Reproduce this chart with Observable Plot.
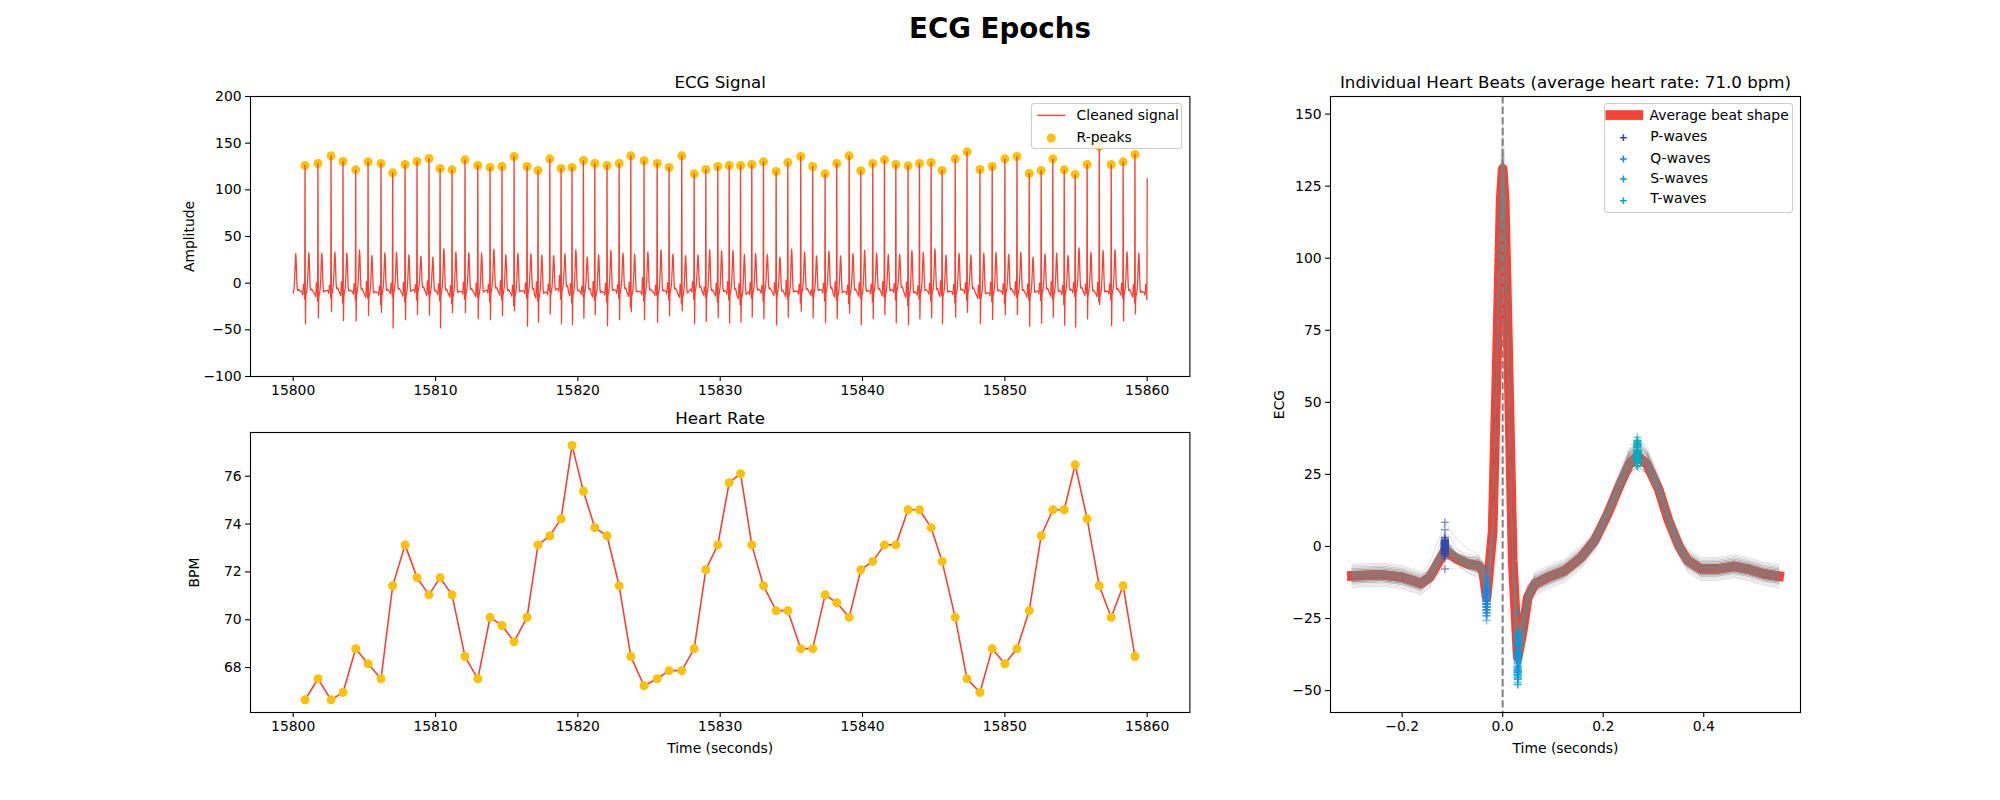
<!DOCTYPE html>
<html>
<head>
<meta charset="utf-8">
<script src="https://cdn.jsdelivr.net/npm/d3@7"></script>
<script src="https://cdn.jsdelivr.net/npm/@observablehq/plot@0.6"></script>
<style>
  body { margin: 0; background: #ffffff; }
  #fig { position: relative; width: 2000px; height: 800px; background: #ffffff; overflow: hidden;
         font-family: "DejaVu Sans", sans-serif; color: #000; }
  .legend { position: absolute; background: rgba(255,255,255,0.8); border: 1px solid #cccccc;
            border-radius: 3px; box-sizing: border-box; }
  .legend svg { position: absolute; left: 0; top: 0; overflow: visible; }
</style>
</head>
<body>
<div id="fig"></div>
<script>
// ---------------- Data ----------------
const figureTitle = "ECG Epochs";
const panelTitles = ["ECG Signal", "Heart Rate", "Individual Heart Beats (average heart rate: 71.0 bpm)"];

// R-peak times (s)
const rTimes = [
  15800.83, 15801.74, 15802.66, 15803.50, 15804.39, 15805.26, 15806.17, 15806.99, 15807.86, 15808.70,
  15809.54, 15810.32, 15811.16, 15812.07, 15812.97, 15813.83, 15814.67, 15815.52, 15816.43, 15817.20,
  15818.03, 15818.82, 15819.59, 15820.39, 15821.19, 15822.05, 15822.90, 15823.72, 15824.65, 15825.57,
  15826.41, 15827.30, 15828.17, 15828.99, 15829.83, 15830.63, 15831.43, 15832.22, 15833.04, 15833.93,
  15834.75, 15835.66, 15836.50, 15837.37, 15838.19, 15839.06, 15839.88, 15840.72, 15841.54, 15842.34,
  15843.20, 15844.00, 15844.82, 15845.59, 15846.51, 15847.34, 15848.25, 15849.11, 15850.00, 15850.85,
  15851.71, 15852.55, 15853.37, 15854.17, 15854.94, 15855.78, 15856.63, 15857.47, 15858.31, 15859.14
];
// Heart rate at each R-peak (bpm)
const heartRate = [
  66.65, 67.53, 66.65, 66.96, 68.79, 68.16, 67.53, 71.42, 73.13, 71.76,
  71.04, 71.76, 71.04, 68.46, 67.53, 70.10, 69.76, 69.08, 70.10, 73.13,
  73.51, 74.22, 77.29, 75.37, 73.85, 73.51, 71.42, 68.46, 67.24, 67.53,
  67.87, 67.87, 68.79, 72.09, 73.13, 75.73, 76.11, 73.13, 71.42, 70.38,
  70.38, 68.79, 68.79, 71.04, 70.71, 70.10, 72.09, 72.44, 73.13, 73.13,
  74.60, 74.60, 73.85, 72.44, 70.10, 67.53, 66.96, 68.79, 68.16, 68.79,
  70.38, 73.51, 74.60, 74.60, 76.48, 74.22, 71.42, 70.10, 71.42, 68.46
];
// R-peak amplitudes
const rAmp = [
  126.1, 128.2, 136.4, 130.4, 121.4, 130.0, 128.2, 118.2, 127.1, 130.4,
  133.6, 122.9, 121.4, 132.1, 126.1, 124.0, 125.0, 135.7, 125.0, 120.7,
  133.2, 122.9, 124.0, 131.4, 128.2, 126.1, 128.2, 136.4, 131.1, 128.2,
  124.0, 136.4, 117.1, 121.8, 125.0, 126.1, 126.1, 127.1, 130.0, 119.6,
  129.3, 135.7, 125.0, 117.1, 128.2, 136.4, 120.4, 128.2, 132.1, 127.1,
  125.7, 128.2, 129.3, 120.7, 133.2, 140.7, 121.8, 125.0, 133.2, 135.7,
  117.5, 120.7, 133.2, 121.4, 116.4, 127.1, 146.4, 127.1, 130.0, 137.9
];
// S-wave minima
const sAmp = [
  -43.6, -37.1, -30.4, -40.0, -40.4, -34.6, -31.1, -47.9, -39.3, -33.6,
  -34.0, -47.9, -31.4, -31.8, -38.2, -39.3, -35.0, -29.6, -46.1, -41.8,
  -32.9, -43.6, -44.3, -37.5, -33.9, -45.4, -39.3, -30.7, -39.3, -41.8,
  -35.0, -29.6, -43.6, -41.1, -36.8, -42.9, -41.8, -36.4, -38.2, -44.6,
  -36.4, -30.0, -37.1, -42.5, -37.9, -32.2, -44.3, -37.9, -33.9, -42.5,
  -44.6, -38.2, -37.1, -43.6, -36.4, -31.1, -43.2, -38.9, -33.9, -33.6,
  -46.1, -42.9, -36.4, -45.0, -47.1, -38.2, -22.9, -45.7, -40.4, -32.9
];
// T-wave peaks
const tAmp = [
  32.5, 32.1, 33.2, 32.1, 35.7, 29.6, 32.5, 32.9, 30.4, 28.9,
  27.9, 36.8, 33.2, 32.5, 32.1, 36.4, 30.4, 32.1, 31.4, 30.0,
  29.6, 31.4, 35.7, 27.9, 30.4, 35.0, 32.1, 31.0, 33.2, 35.7,
  31.0, 29.6, 30.4, 35.7, 34.3, 35.0, 30.7, 31.5, 30.7, 27.9,
  36.4, 33.2, 29.3, 34.3, 29.3, 31.5, 35.0, 32.1, 30.7, 30.7,
  35.0, 32.9, 36.8, 30.0, 32.1, 30.0, 32.1, 32.9, 30.7, 32.9,
  27.9, 31.4, 32.1, 29.6, 37.9, 32.9, 35.0, 35.7, 33.6, 32.1
];
// P-wave peaks (estimated from the cluster)
const pAmp = [
  -1.0, 0.5, -2.0, 1.5, -0.5, 2.0, -3.0, 0.0, 1.0, -1.5,
  2.5, -0.5, -2.5, 1.0, 0.0, -1.0, 3.0, -2.0, 0.5, 1.5,
  -1.0, 8.4, -0.5, -3.5, 2.0, 0.0, -1.5, 1.0, 5.8, -2.0,
  0.5, -1.0, 1.5, -4.3, 0.0, 2.0, -0.5, 1.0, -2.5, 0.5,
  3.2, -1.0, -7.8, 0.0, 1.5, -2.0, 0.5, -1.0, 2.0, -0.5,
  1.0, -3.0, 0.0, 2.5, -1.5, 0.5, -2.0, 1.0, -0.5, 1.5,
  -1.0, 0.0, 2.0, -2.5, 0.5, -1.0, 1.0, -0.5, 0.0, -1.5
];
// Q-wave minima (estimated from the cluster)
const qAmp = [
  -17, -19, -15, -21, -18, -16, -23, -14, -20, -18,
  -12, -19, -22, -17, -15, -20, -18, -24, -16, -19,
  -8, -17, -21, -14, -18, -20, -16, -25.7, -19, -13,
  -18, -22, -17, -15, -20, -18, -23, -16, -19, -10.7,
  -17, -21, -14, -19, -18, -22, -16, -20, -15, -18,
  -24, -17, -19, -13, -21, -18, -16, -20, -22, -15,
  -18, -19, -17, -23, -14, -11, -20, -18, -16, -21
];
// Baseline offset of each beat (estimated from the spread of grey beats)
const baseOffset = [
  0.5, -1.5, 2.0, -0.5, 1.0, -2.5, 0.0, 1.5, -1.0, 3.0,
  -0.5, 0.5, -2.0, 1.0, -1.5, 2.5, 0.0, -1.0, 1.5, -3.0,
  0.5, 4.0, -0.5, 1.0, -2.0, 0.0, 2.0, -1.5, 0.5, -0.5,
  1.5, -2.5, 3.5, 0.0, -1.0, 1.0, -4.0, 0.5, 2.0, -0.5,
  -1.5, 1.0, 0.0, 2.5, -2.0, 0.5, -1.0, 1.5, -0.5, 3.0,
  -2.5, 0.0, 1.0, -1.5, 0.5, 2.0, -3.5, -0.5, 1.0, 0.0,
  -2.0, 1.5, -1.0, 0.5, 2.5, -0.5, -1.5, 1.0, 0.0, -2.0
];
// Partial beats cut by the window edges
const edgeTimes = [15799.91, 15860.004];
const edgeR = [131, 122];
const signalRange = [15800, 15860];

// Average beat shape (time relative to R-peak, s)
const avgTime = [
  -0.30, -0.24, -0.20, -0.18, -0.163, -0.145, -0.128, -0.115, -0.092, -0.069,
  -0.049, -0.039, -0.032, -0.02, -0.01, -0.004, 0, 0.004, 0.01, 0.02,
  0.03, 0.04, 0.05, 0.064, 0.09, 0.123, 0.156, 0.183, 0.209, 0.234,
  0.252, 0.268, 0.287, 0.31, 0.33, 0.351, 0.368, 0.394, 0.427, 0.46,
  0.487, 0.52, 0.55
];
const avgValue = [
  -10.2, -9.8, -10.7, -11.8, -12.8, -10.7, -5.5, -1.4, -4.3, -6.1,
  -6.6, -8.4, -17.6, 5, 75, 120, 131, 120, 75, -5,
  -38.4, -29.2, -17.6, -13, -10.7, -8.4, -3.8, 2.0, 11.3, 21.7,
  28.5, 31.5, 28.5, 20, 9, 0.0, -4.9, -7.8, -7.8, -6.9,
  -7.8, -9.5, -10.3
];
// Which wave each point of the average shape belongs to, and how much
const waveLabel = [
  "", "", "", "", "", "P", "P", "P", "P", "P",
  "", "Q", "Q", "Q", "R", "R", "R", "R", "R", "S",
  "S", "S", "S", "", "", "", "", "T", "T", "T",
  "T", "T", "T", "T", "T", "T", "", "", "", "",
  "", "", ""
];
const waveWeight = [
  0, 0, 0, 0, 0, 0.15, 0.6, 1, 0.5, 0.2,
  0, 0.3, 1, 0.3, 0.55, 0.9, 1, 0.9, 0.55, 0.4,
  1, 0.7, 0.35, 0, 0, 0, 0, 0.15, 0.35, 0.65,
  0.9, 1, 0.9, 0.65, 0.35, 0.12, 0, 0, 0, 0,
  0, 0, 0
];
const waveNames = ["P", "Q", "S", "T"];
const waveLegend = ["P-waves", "Q-waves", "S-waves", "T-waves"];
const waveColors = ["#3949AB", "#1E88E5", "#039BE5", "#00ACC1"];
const zeroLine = [0];

const timeTicks = [15800, 15810, 15820, 15830, 15840, 15850, 15860];
const ampTicks = [-100, -50, 0, 50, 100, 150, 200];
const bpmTicks = [68, 70, 72, 74, 76];
const beatTimeTicks = [-0.2, 0, 0.2, 0.4];
const ecgTicks = [-50, -25, 0, 25, 50, 75, 100, 125, 150];

// ---------------- Derived tables ----------------
const keyIndex = {};
waveLabel.forEach((l, k) => { if (l && waveWeight[k] === 1) keyIndex[l] = k; });

function beatShape(amps, base) {
  return avgTime.map((o, k) => {
    const lab = waveLabel[k], w = waveWeight[k];
    const d = lab ? amps[lab] - avgValue[keyIndex[lab]] : 0;
    return {o, v: avgValue[k] + (1 - w) * base + w * d};
  });
}
const beatAmps = rTimes.map((t, i) => ({P: pAmp[i], Q: qAmp[i], R: rAmp[i], S: sAmp[i], T: tAmp[i]}));
const avgAmps = {P: avgValue[keyIndex.P], Q: avgValue[keyIndex.Q], R: avgValue[keyIndex.R], S: avgValue[keyIndex.S], T: avgValue[keyIndex.T]};

// Continuous cleaned signal = successive beats
const allBeats = [
  {t: edgeTimes[0], amps: {...avgAmps, R: edgeR[0]}, base: 0},
  ...rTimes.map((t, i) => ({t, amps: beatAmps[i], base: baseOffset[i]})),
  {t: edgeTimes[1], amps: {...avgAmps, R: edgeR[1]}, base: 0}
];
const signal = [];
allBeats.forEach(b => {
  beatShape(b.amps, b.base).forEach(p => {
    if (p.o >= -0.24 && p.o <= 0.46) {
      const t = b.t + p.o;
      if (t >= signalRange[0] - 1e-9 && t <= signalRange[1] + 1e-9) signal.push({t, v: p.v});
    }
  });
});
const rRows = rTimes.map((t, i) => ({t, r: rAmp[i], hr: heartRate[i]}));

// Individual beats
const beatRows = [];
rTimes.forEach((t, i) => {
  beatShape(beatAmps[i], baseOffset[i]).forEach(p => beatRows.push({beat: i, o: p.o, v: p.v}));
});
const avgRows = avgTime.map((o, k) => ({o, v: avgValue[k]}));
const waveRows = waveNames.map(w => rTimes.map((t, i) => ({o: avgTime[keyIndex[w]], v: beatAmps[i][w]})));

// ---------------- Drawing ----------------
const fig = document.getElementById("fig");
function place(el, left, top) {
  el.style.position = "absolute";
  el.style.left = left + "px";
  el.style.top = top + "px";
  fig.appendChild(el);
}
const minus = s => String(s).replace(/-/g, "\u2212");
const baseStyle = {fontFamily: "DejaVu Sans, sans-serif", fontSize: "13.9px", background: "transparent", overflow: "visible", color: "#000"};
const tickOpts = {tickSize: 4.9, tickPadding: 4, strokeWidth: 1.1};
const titleMark = txt => Plot.text([txt], {frameAnchor: "top", dy: -8.3, lineAnchor: "bottom", fontSize: 16.67, text: d => d, fill: "#000"});

// Suptitle
const sup = document.createElement("div");
sup.textContent = figureTitle;
Object.assign(sup.style, {width: "2000px", textAlign: "center", fontWeight: "bold", fontSize: "27.7px", lineHeight: "27.7px"});
place(sup, 0, 14.5);

// ECG Signal panel
const pTop = Plot.plot({
  width: 1260, height: 410,
  marginLeft: 250, marginRight: 70.6, marginTop: 96, marginBottom: 34,
  style: baseStyle,
  x: {domain: [15797, 15863]},
  y: {domain: [-100, 200]},
  marks: [
    Plot.dot(rRows, {x: "t", y: "r", r: 4.5, fill: "#FFC107"}),
    Plot.line(signal, {x: "t", y: "v", stroke: "#F44336", strokeWidth: 1.3}),
    Plot.axisX({ticks: timeTicks, tickFormat: d => String(d), ...tickOpts, label: null}),
    Plot.axisY({ticks: ampTicks, tickFormat: minus, ...tickOpts, label: "Amplitude", labelAnchor: "center", labelArrow: "none", labelOffset: 66}),
    Plot.frame({stroke: "#000", strokeWidth: 1.1}),
    titleMark(panelTitles[0])
  ]
});
place(pTop, 0, 0);

// Heart rate panel
const pHr = Plot.plot({
  width: 1260, height: 400,
  marginLeft: 250, marginRight: 70.6, marginTop: 32, marginBottom: 88,
  style: baseStyle,
  x: {domain: [15797, 15863]},
  y: {domain: [66.12, 77.83]},
  marks: [
    Plot.line(rRows, {x: "t", y: "hr", stroke: "#F44336", strokeWidth: 1.6}),
    Plot.dot(rRows, {x: "t", y: "hr", r: 4.5, fill: "#FFC107"}),
    Plot.axisX({ticks: timeTicks, tickFormat: d => String(d), ...tickOpts, label: "Time (seconds)", labelAnchor: "center", labelArrow: "none", labelOffset: 40}),
    Plot.axisY({ticks: bpmTicks, tickFormat: minus, ...tickOpts, label: "BPM", labelAnchor: "center", labelArrow: "none", labelOffset: 61}),
    Plot.frame({stroke: "#000", strokeWidth: 1.1}),
    titleMark(panelTitles[1])
  ]
});
place(pHr, 0, 400);

// Individual beats panel
const pBeats = Plot.plot({
  width: 740, height: 800,
  marginLeft: 70, marginRight: 200, marginTop: 96, marginBottom: 88,
  style: baseStyle,
  x: {domain: [-0.3425, 0.5925]},
  y: {domain: [-57.6, 156.1]},
  marks: [
    Plot.line(avgRows, {x: "o", y: "v", stroke: "#F44336", strokeWidth: 9.7, strokeLinecap: "square", strokeLinejoin: "round"}),
    Plot.line(beatRows, {x: "o", y: "v", z: "beat", stroke: "#808080", strokeWidth: 0.7, strokeOpacity: 0.35}),
    Plot.ruleX(zeroLine, {x: d => d, stroke: "#808080", strokeWidth: 2, strokeDasharray: "7.4,3.2"}),
    ...waveRows.map((rows, j) => Plot.dot(rows, {x: "o", y: "v", symbol: "plus", r: 2.7, stroke: waveColors[j], strokeWidth: 1.5, strokeOpacity: 0.55})),
    Plot.axisX({ticks: beatTimeTicks, tickFormat: d => minus(d3.format(".1f")(d)), ...tickOpts, label: "Time (seconds)", labelAnchor: "center", labelArrow: "none", labelOffset: 40}),
    Plot.axisY({ticks: ecgTicks, tickFormat: minus, ...tickOpts, label: "ECG", labelAnchor: "center", labelArrow: "none", labelOffset: 56}),
    Plot.frame({stroke: "#000", strokeWidth: 1.1}),
    titleMark(panelTitles[2])
  ]
});
place(pBeats, 1260, 0);

// ---------------- Legends ----------------
const svgNS = "http://www.w3.org/2000/svg";
function legendBox(left, top, w, h) {
  const div = document.createElement("div");
  div.className = "legend";
  Object.assign(div.style, {width: w + "px", height: h + "px"});
  place(div, left, top);
  const svg = d3.select(div).append("svg").attr("width", w).attr("height", h);
  return svg;
}
function legendText(svg, x, y, txt) {
  svg.append("text").attr("x", x).attr("y", y).attr("dy", "0.35em")
    .attr("font-family", "DejaVu Sans, sans-serif").attr("font-size", 13.9).attr("fill", "#000").text(txt);
}
// Top legend
{
  const s = legendBox(1030.7, 103.3, 151.6, 46);
  s.append("line").attr("x1", 5.3).attr("x2", 33.3).attr("y1", 11.4).attr("y2", 11.4)
    .attr("stroke", "#F44336").attr("stroke-width", 1.4);
  legendText(s, 44.6, 11.4, "Cleaned signal");
  s.append("circle").attr("cx", 19.3).attr("cy", 34).attr("r", 4.5).attr("fill", "#FFC107");
  legendText(s, 44.6, 33.5, "R-peaks");
}
// Right legend
{
  const s = legendBox(1604.3, 103.3, 189, 109.4);
  s.append("rect").attr("x", 0.5).attr("y", 6.2).attr("width", 37.7).attr("height", 9.7).attr("fill", "#F44336");
  legendText(s, 44.6, 11.2, "Average beat shape");
  const ys = [33.7, 55, 75, 96.7], ty = [31.7, 53.7, 73.7, 94.4];
  waveLegend.forEach((lab, j) => {
    s.append("path").attr("d", `M${18.4 - 3.4},${ys[j]}H${18.4 + 3.4}M18.4,${ys[j] - 3.4}V${ys[j] + 3.4}`)
      .attr("stroke", waveColors[j]).attr("stroke-width", 1.6).attr("fill", "none");
    legendText(s, 45.3, ty[j], lab);
  });
}
</script>
</body>
</html>
